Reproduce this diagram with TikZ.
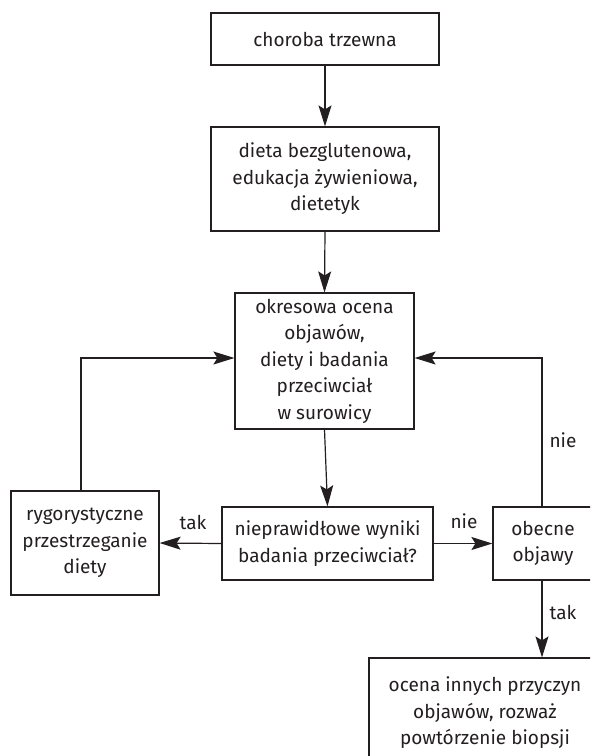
\documentclass[tikz,border=0pt]{standalone}
\usepackage{fontspec}
\setmainfont{Fira Sans}
\usetikzlibrary{arrows.meta}
\definecolor{ink}{RGB}{35,31,32}
\begin{document}
\begin{tikzpicture}[x=1pt,y=-1pt,
  box/.style={draw=ink, line width=1.2pt, text=ink, align=center, inner sep=0pt,
    font=\fontsize{19}{26.5}\selectfont},
  lbl/.style={text=ink, inner sep=0pt, font=\fontsize{19}{22}\selectfont},
  conn/.style={draw=ink, line width=1.2pt},
  arr/.style={conn, -{Stealth[length=21pt,width=13pt,inset=4pt]}}]
\clip (0,0) rectangle (590,756);
\fill[white] (0,0) rectangle (590,756);
\node[box, minimum width=228pt, minimum height=52pt] (b1) at (325,39) {choroba trzewna};
\node[box, minimum width=228pt, minimum height=104pt] (b2) at (325,179) {dieta bezglutenowa,\\edukacja żywieniowa,\\dietetyk};
\node[box, minimum width=179pt, minimum height=136pt] (b3) at (324.5,361) {okresowa ocena\\objawów,\\diety i badania\\przeciwciał\\w surowicy};
\node[box, minimum width=148pt, minimum height=104pt] (lb) at (85,543) {rygorystyczne\\przestrzeganie\\diety};
\node[box, minimum width=211pt, minimum height=73pt] (mb) at (327.5,543.5) {nieprawidłowe wyniki\\badania przeciwciał?};
\node[box, minimum width=100pt, minimum height=73pt] (rb) at (543,543.5) {obecne\\objawy};
\node[box, minimum width=232pt, minimum height=110pt] (bb) at (485,713) {ocena innych przyczyn\\objawów, rozważ\\powtórzenie biopsji};
\coordinate (lup) at (81,491);
\coordinate (rup) at (542,507);
\coordinate (rdn) at (542,580);
\draw[arr] (b1.south) -- (b2.north);
\draw[arr] (b2.south) -- (b3.north);
\draw[arr] (b3.south) -- (mb.north);
\draw[arr] (mb.west) -- (lb.east);
\draw[arr] (mb.east) -- (rb.west);
\draw[arr] (lup) |- ([yshift=3pt]b3.west);
\draw[arr] (rup) |- ([yshift=3pt]b3.east);
\draw[arr] (rdn) -- (rdn |- bb.north);
\node[lbl] (ltak) at (193,522) {tak};
\node[lbl] (lnie) at (464,521) {nie};
\node[lbl] (rnie) at (563,440) {nie};
\node[lbl] (btak) at (563,612) {tak};
\end{tikzpicture}
\end{document}
